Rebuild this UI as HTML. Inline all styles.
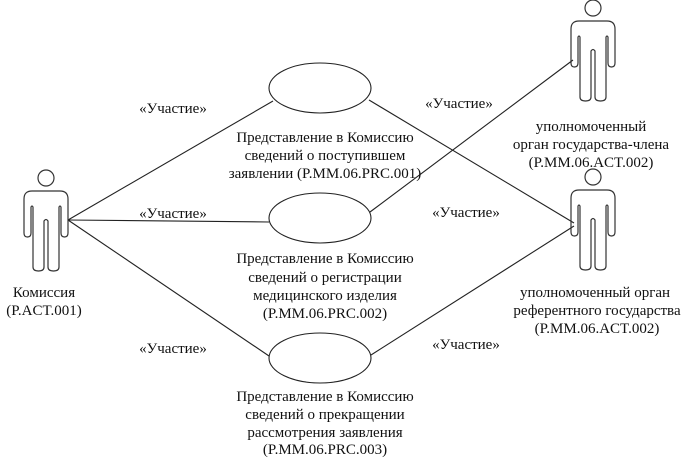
<!DOCTYPE html>
<html><head><meta charset="utf-8"><style>
html,body{margin:0;padding:0;background:#fff;}
svg{display:block;}
.t text{font-family:"Liberation Serif","Times New Roman",Times,"DejaVu Serif",serif !important;}
</style></head><body>
<svg width="690" height="459" viewBox="0 0 690 459" xmlns="http://www.w3.org/2000/svg">
<defs>
<g id="actor" fill="none" stroke="#333" stroke-width="1.2">
<circle cx="22" cy="-13" r="8"/>
<path d="M0,8 Q0,0 8,0 H36 Q44,0 44,8 V42 Q44,46 40.5,46 Q37,46 37,42 V16 Q36,14 35,16 V76 Q35,80 29.5,80 Q24,80 24,76 V30 Q22,27 20,30 V76 Q20,80 14.5,80 Q9,80 9,76 V16 Q8,14 7,16 V42 Q7,46 3.5,46 Q0,46 0,42 Z"/>
</g>
</defs>
<g stroke="#222" stroke-width="1.1" fill="none">
<line x1="68" y1="220" x2="273" y2="101"/>
<line x1="68" y1="220" x2="269" y2="222"/>
<line x1="68" y1="220" x2="269" y2="356"/>
<line x1="369" y1="100" x2="574" y2="223"/>
<line x1="370" y1="212" x2="573" y2="60"/>
<line x1="371" y1="355" x2="574" y2="226"/>
<ellipse cx="320" cy="88" rx="51" ry="25" fill="#fff"/>
<ellipse cx="320" cy="218" rx="51" ry="25" fill="#fff"/>
<ellipse cx="320" cy="358" rx="51" ry="25" fill="#fff"/>
</g>
<use href="#actor" x="24" y="191"/>
<use href="#actor" x="571" y="21"/>
<use href="#actor" x="571" y="190"/>
<g class="t" style="font-family:'Liberation Serif',serif;font-size:15px" fill="#111" text-anchor="middle">
<text x="173" y="113">«Участие»</text>
<text x="459" y="108">«Участие»</text>
<text x="173" y="218">«Участие»</text>
<text x="466" y="217">«Участие»</text>
<text x="173" y="353">«Участие»</text>
<text x="466" y="349">«Участие»</text>
<text x="325" y="142">Представление в Комиссию</text>
<text x="325" y="160">сведений о поступившем</text>
<text x="325" y="178">заявлении (P.MM.06.PRC.001)</text>
<text x="325" y="263">Представление в Комиссию</text>
<text x="325" y="282">сведений о регистрации</text>
<text x="325" y="300">медицинского изделия</text>
<text x="325" y="318">(P.MM.06.PRC.002)</text>
<text x="325" y="401">Представление в Комиссию</text>
<text x="325" y="419">сведений о прекращении</text>
<text x="325" y="437">рассмотрения заявления</text>
<text x="325" y="454">(P.MM.06.PRC.003)</text>
<text x="44" y="297">Комиссия</text>
<text x="44" y="315">(P.ACT.001)</text>
<text x="591" y="131">уполномоченный</text>
<text x="591" y="149">орган государства-члена</text>
<text x="591" y="167">(P.MM.06.ACT.002)</text>
<text x="595" y="297">уполномоченный орган</text>
<text x="597" y="315">референтного государства</text>
<text x="597" y="333">(P.MM.06.ACT.002)</text>
</g>
</svg>
</body></html>
